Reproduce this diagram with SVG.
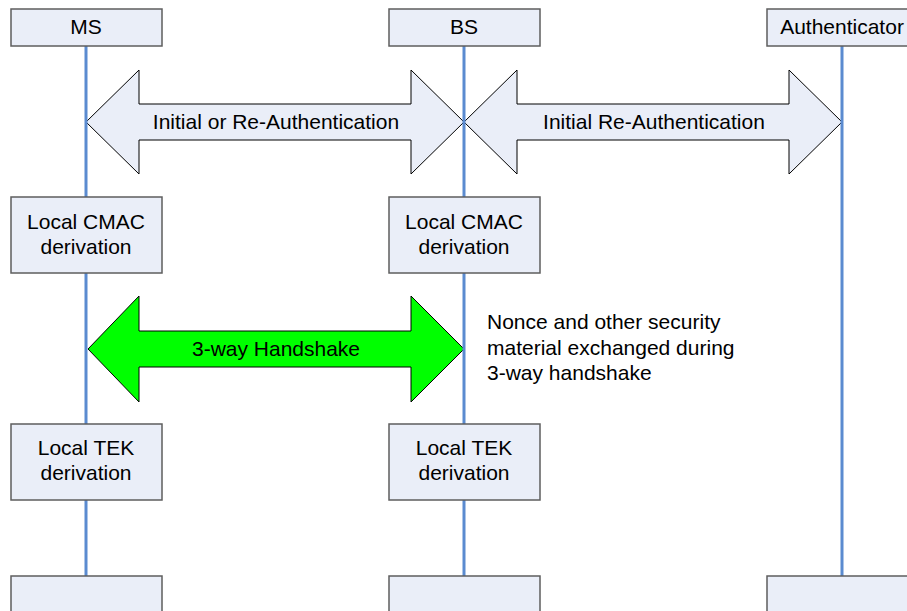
<svg xmlns="http://www.w3.org/2000/svg" width="907" height="611" viewBox="0 0 907 611">
  <style>
    .box { fill: #EAEEF8; stroke: #5E5E5E; stroke-width: 1.5; }
    .life { stroke: #5B8BD0; stroke-width: 3; fill: none; }
    .arrow { fill: #EAEEF8; stroke: #000; stroke-width: 1; stroke-linejoin: miter; }
    .green { fill: #00FF00; stroke: #000; stroke-width: 1; }
    text { font-family: "Liberation Sans", Arial, sans-serif; font-size: 21px; fill: #000; }
    .c { text-anchor: middle; }
  </style>
  <rect width="907" height="611" fill="#fff"/>

  <!-- lifelines and arrows -->
  <g id="connectors">
    <path id="arrow-auth-ms-bs" class="arrow" d="M86,122 L139,70 L139,104 L411,104 L411,70 L464,122 L411,174 L411,140 L139,140 L139,174 Z"/>
    <path id="arrow-auth-bs-auth" class="arrow" d="M464,122 L517,70 L517,104 L789,104 L789,70 L842,122 L789,174 L789,140 L517,140 L517,174 Z"/>
    <path id="arrow-handshake" class="green" d="M88,349 L139,296 L139,331 L411,331 L411,296 L464,349 L411,402 L411,367 L139,367 L139,402 Z"/>
    <line class="life" x1="86" y1="46" x2="86" y2="576"/>
    <line class="life" x1="464" y1="46" x2="464" y2="576"/>
    <line class="life" x1="842" y1="46" x2="842" y2="576"/>
    <text class="c" x="276" y="129">Initial or Re-Authentication</text>
    <text class="c" x="654" y="129">Initial Re-Authentication</text>
    <text class="c" x="276" y="356">3-way Handshake</text>
  </g>

  <g id="ms">
    <rect class="box" x="11" y="9" width="151" height="37"/>
    <text class="c" x="86" y="34">MS</text>
  </g>
  <g id="bs">
    <rect class="box" x="389" y="9" width="151" height="37"/>
    <text class="c" x="464" y="34">BS</text>
  </g>
  <g id="authenticator">
    <rect class="box" x="767" y="9" width="151" height="37"/>
    <text class="c" x="842" y="34">Authenticator</text>
  </g>

  <g id="ms-cmac">
    <rect class="box" x="11" y="197" width="151" height="76"/>
    <text class="c" x="86" y="229">Local CMAC</text>
    <text class="c" x="86" y="254">derivation</text>
  </g>
  <g id="bs-cmac">
    <rect class="box" x="389" y="197" width="151" height="76"/>
    <text class="c" x="464" y="229">Local CMAC</text>
    <text class="c" x="464" y="254">derivation</text>
  </g>

  <g id="handshake-note">
    <text x="487" y="329">Nonce and other security</text>
    <text x="487" y="355">material exchanged during</text>
    <text x="487" y="380">3-way handshake</text>
  </g>

  <g id="ms-tek">
    <rect class="box" x="11" y="424" width="151" height="76"/>
    <text class="c" x="86" y="455">Local TEK</text>
    <text class="c" x="86" y="480">derivation</text>
  </g>
  <g id="bs-tek">
    <rect class="box" x="389" y="424" width="151" height="76"/>
    <text class="c" x="464" y="455">Local TEK</text>
    <text class="c" x="464" y="480">derivation</text>
  </g>

  <g id="ms-end">
    <rect class="box" x="11" y="576" width="151" height="50"/>
  </g>
  <g id="bs-end">
    <rect class="box" x="389" y="576" width="151" height="50"/>
  </g>
  <g id="authenticator-end">
    <rect class="box" x="767" y="576" width="151" height="50"/>
  </g>
</svg>
